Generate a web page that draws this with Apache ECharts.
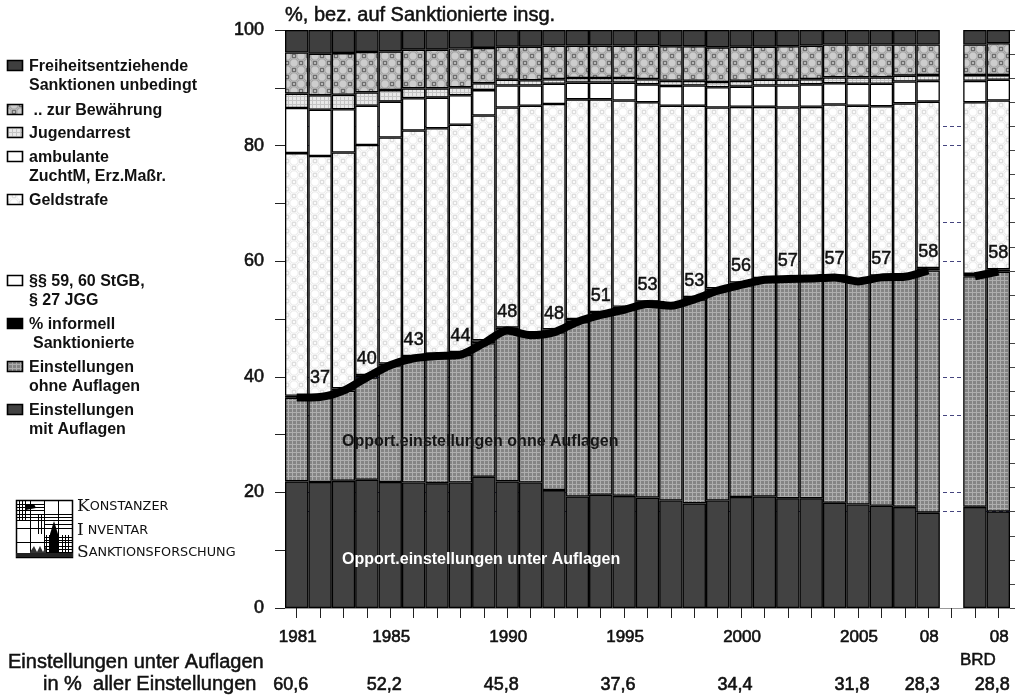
<!DOCTYPE html>
<html><head><meta charset="utf-8">
<style>html,body{margin:0;padding:0;background:#fff}#c{width:1024px;height:698px}</style>
<script src="https://cdn.jsdelivr.net/npm/echarts@6/dist/echarts.min.js"></script>
</head><body><div id="c"></div>
<script>
const categories = ['1981','1982','1983','1984','1985','1986','1987','1988','1989','1990','1991','1992','1993','1994','1995','1996','1997','1998','1999','2000','2001','2002','2003','2004','2005','2006','2007','2008','','BRD 2007','BRD 2008'];
const tickLabels = {'1981':'1981','1985':'1985','1990':'1990','1995':'1995','2000':'2000','2005':'2005','2008':'08','BRD 2008':'08'};
const shareOfDismissals = {'1981':'60,6','1985':'52,2','1990':'45,8','1995':'37,6','2000':'34,4','2005':'31,8','2008':'28,3','BRD 2008':'28,8'};
const labelledYears = ['1982','1984','1986','1988','1990','1992','1994','1996','1998','2000','2002','2004','2006','2008','BRD 2008'];

const mitAuflagen  = [21.9,21.8,22.0,22.2,21.8,21.7,21.6,21.7,22.7,21.9,21.7,20.4,19.3,19.6,19.4,19.1,18.6,18.1,18.6,19.2,19.3,19.0,19.0,18.2,17.9,17.7,17.5,16.5,null,17.5,16.7];
const ohneAuflagen = [14.5,14.7,15.6,17.7,20.2,21.5,22.0,22.1,23.1,26.1,25.5,27.3,30.2,31.1,32.2,33.5,33.7,35.3,36.3,36.7,37.5,37.9,38.0,39.0,38.6,39.5,39.8,41.9,null,39.9,41.5];
const stgb5960     = [0.3,0.3,0.4,0.4,0.3,0.4,0.4,0.5,0.5,0.5,0.5,0.5,0.5,0.5,0.5,0.4,0.4,0.4,0.4,0.4,0.3,0.3,0.3,0.3,0.3,0.3,0.3,0.4,null,0.4,0.4];
const geldstrafe   = [42.0,41.4,40.8,39.8,39.1,39.0,39.0,39.3,38.9,38.1,39.2,39.0,38.0,36.8,35.7,34.5,34.2,33.1,31.3,30.4,29.6,29.4,29.4,29.6,30.1,29.3,29.7,28.8,null,29.7,29.2];
const ambulante    = [7.8,8.0,7.5,6.8,6.2,5.6,5.3,5.1,4.4,3.8,3.5,3.5,2.9,2.9,3.1,3.1,3.4,3.5,3.5,3.5,3.7,3.8,3.9,3.7,3.8,3.9,3.8,3.6,null,3.7,3.6];
const jugendarrest = [2.5,2.5,2.5,2.3,2.0,1.7,1.6,1.4,1.2,1.0,0.9,0.8,0.8,0.8,0.8,0.9,0.9,0.8,0.9,1.0,1.0,1.0,0.9,1.0,1.1,1.1,1.0,1.0,null,1.0,0.8];
const bewaehrung   = [7.1,7.2,7.2,7.0,6.7,6.7,6.7,6.7,6.1,5.7,5.8,5.8,5.6,5.6,5.6,5.8,6.0,6.0,6.0,5.9,5.7,5.8,5.8,5.7,5.7,5.7,5.4,5.3,null,5.3,5.5];
const freiheit     = [3.9,4.1,4.0,3.8,3.7,3.4,3.4,3.2,3.1,2.9,2.9,2.7,2.7,2.7,2.7,2.7,2.8,2.8,3.0,2.9,2.9,2.8,2.7,2.5,2.5,2.5,2.5,2.5,null,2.5,2.3];
const informell    = [36.4,36.5,37.6,39.9,42.0,43.2,43.6,43.8,45.8,48.0,47.2,47.7,49.5,50.7,51.6,52.6,52.3,53.4,54.9,55.9,56.8,56.9,57.0,57.2,56.5,57.2,57.3,58.4,null,57.4,58.2];

const FONT = '"Liberation Sans", Arial, sans-serif';
const INK = '#111';

function tile(size, draw){
  const c = document.createElement('canvas'); c.width = c.height = size;
  draw(c.getContext('2d'), size);
  return {image:c, repeat:'repeat'};
}
function grid(bg, line, p){
  return tile(p, (g,s)=>{ g.fillStyle=bg; g.fillRect(0,0,s,s); g.fillStyle=line; g.fillRect(0,0,s,1); g.fillRect(0,0,1,s); });
}
function rings(bg, disc, ring, sq){
  return tile(14, (g,s)=>{
    g.fillStyle=bg; g.fillRect(0,0,s,s);
    [[7,0],[7,14],[0,7],[14,7]].forEach(([x,y])=>{
      g.beginPath(); g.arc(x,y,4.2,0,Math.PI*2); g.fillStyle=disc; g.fill(); g.strokeStyle=ring; g.lineWidth=1; g.stroke();
    });
    g.strokeStyle=sq; g.lineWidth=1;
    g.strokeRect(5.5,5.5,3,3);
    g.strokeRect(-1.5,-1.5,3,3); g.strokeRect(12.5,-1.5,3,3); g.strokeRect(-1.5,12.5,3,3); g.strokeRect(12.5,12.5,3,3);
  });
}
const P = {
  frei:'#3f3f3f',
  bew:rings('#b9b9b9','#cdcdcd','#9c9c9c','#6e6e6e'),
  jug:grid('#e8e8e8','#c4c4c4',4),
  amb:'#ffffff',
  geld:rings('#fbfbfb','#ffffff','#e8e8e8','#dedede'),
  st:'#ffffff',
  ohne:grid('#848484','#aeaeae',4),
  mit:'#424242'
};

function bar(name, data, color){
  return {name, type:'bar', stack:'s', data, barWidth:'100%', silent:true,
    itemStyle:{color, borderColor:'#000', borderWidth:1.3}};
}

const gfx = [];
function txt(x,y,text,o){
  gfx.push({type:'text', x, y, z:50, silent:true, style:Object.assign({text, fill:INK, font:'bold 16px '+FONT, textVerticalAlign:'middle'},o||{})});
}
const legendRows = [
  {y:66, fill:P.frei, lines:[['Freiheitsentziehende',29,67],['Sanktionen unbedingt',29,86]]},
  {y:110,fill:P.bew,  lines:[[' .. zur Bewährung',29,111]]},
  {y:133,fill:P.jug,  lines:[['Jugendarrest',29,134]]},
  {y:157,fill:P.amb,  lines:[['ambulante',29,158],['ZuchtM, Erz.Maßr.',29,177]]},
  {y:200,fill:P.geld, lines:[['Geldstrafe',29,201]]},
  {y:281,fill:P.st,   lines:[['§§ 59, 60 StGB,',29,282],['§ 27 JGG',29,301]]},
  {y:324,fill:'#000', lines:[['% informell',29,325],['Sanktionierte',33,344]]},
  {y:367,fill:P.ohne, lines:[['Einstellungen',29,368],['ohne Auflagen',29,387]]},
  {y:410,fill:P.mit,  lines:[['Einstellungen',29,411],['mit Auflagen',29,430]]}
];
legendRows.forEach(r=>{
  gfx.push({type:'rect', z:50, silent:true, shape:{x:7.5,y:r.y-5.5,width:15,height:10}, style:{fill:r.fill, stroke:'#000', lineWidth:1.6}});
  r.lines.forEach(l=>txt(l[1],l[2],l[0]));
});

txt(285,15,'%, bez. auf Sanktionierte insg.',{font:'20px '+FONT, stroke:INK, lineWidth:0.5});
txt(342,442,'Opport.einstellungen ohne Auflagen',{font:'bold 16px '+FONT, fill:'#161616'});
txt(342,560,'Opport.einstellungen unter Auflagen',{font:'bold 16px '+FONT, fill:'#fff'});
txt(8,662,'Einstellungen unter Auflagen',{font:'20px '+FONT, stroke:INK, lineWidth:0.5});
txt(43,684,'in %  aller Einstellungen',{font:'20px '+FONT, stroke:INK, lineWidth:0.5});
txt(960,660,'BRD',{font:'17px '+FONT, stroke:INK, lineWidth:0.5});

// Institute logo
function logoLine(x1,y1,x2,y2,w){ gfx.push({type:'line', z:50, silent:true, shape:{x1,y1,x2,y2}, style:{stroke:'#000', lineWidth:w||1}}); }
gfx.push({type:'rect', z:50, silent:true, shape:{x:16.5,y:500.5,width:56,height:57}, style:{fill:'#fff',stroke:'#000',lineWidth:1.5}});
[30,44,58].forEach(x=>logoLine(x+.5,500,x+.5,558));
[514,528,542].forEach(y=>logoLine(16,y+.5,73,y+.5));
[19,22,25].forEach(x=>logoLine(x+.5,500,x+.5,520));
[504,507,510,517,520].forEach(y=>logoLine(16,y+.5,44,y+.5));
[517,520,524].forEach(y=>logoLine(44,y+.5,72,y+.5));
[38,41].forEach(x=>logoLine(x+.5,514,x+.5,534));
[46,49,62,65,68].forEach(x=>logoLine(x+.5,535,x+.5,558));
[537,540,546,549,552,555].forEach(y=>logoLine(44,y+.5,72,y+.5));
gfx.push({type:'polygon', z:51, silent:true, shape:{points:[[50,534],[54,521],[58,534],[58,557],[50,557]]}, style:{fill:'#000'}});
gfx.push({type:'polygon', z:51, silent:true, shape:{points:[[25,504],[34,504],[36,508],[26,510]]}, style:{fill:'#000'}});
gfx.push({type:'polygon', z:51, silent:true, shape:{points:[[30,552],[34,546],[37,552],[40,546],[43,552],[46,546],[46,557],[30,557]]}, style:{fill:'#333'}});
gfx.push({type:'rect', z:51, silent:true, shape:{x:16,y:553,width:57,height:4}, style:{fill:'#222'}});

function logoText(y,initial,rest){
  gfx.push({type:'text', x:77, y, z:50, silent:true, style:{
    text:'{a|'+initial+'}{b|'+rest+'}', textVerticalAlign:'middle',
    rich:{a:{font:'17px "DejaVu Serif", serif', fill:'#111'}, b:{font:'12.8px "DejaVu Sans", sans-serif', fill:'#111'}}
  }});
}
logoText(507,'K','ONSTANZER');
logoText(531,'I',' NVENTAR');
logoText(553,'S','ANKTIONSFORSCHUNG');

const lineData = informell.map((v,i)=> labelledYears.includes(categories[i])
  ? {value:v, label:{show:true}} : v);

const option = {
  animation:false,
  backgroundColor:'#fff',
  grid:{left:285, right:14, top:30, height:578},
  xAxis:[{
    type:'category', data:categories, position:'bottom',
    axisLine:{show:true, lineStyle:{color:'#999', width:1}},
    axisTick:{show:true, alignWithLabel:true, interval:0, length:10, lineStyle:{color:'#222', width:1}},
    axisLabel:{interval:0, margin:21, color:INK, fontFamily:FONT, fontSize:17, textBorderColor:INK, textBorderWidth:0.6, padding:[0,0,0,2],
      formatter:(v)=>tickLabels[v]||''}
  },{
    type:'category', data:categories, position:'bottom', offset:68,
    axisLine:{show:false}, axisTick:{show:false},
    axisLabel:{interval:0, margin:0, color:INK, fontFamily:FONT, fontSize:18, textBorderColor:INK, textBorderWidth:0.6, padding:[0,12,0,0],
      formatter:(v)=>shareOfDismissals[v]||''}
  }],
  yAxis:[{
    type:'value', min:0, max:100, interval:20, position:'left',
    axisLine:{show:false},
    axisTick:{show:true, length:10, lineStyle:{color:'#222', width:1}},
    minorTick:{show:true, splitNumber:2, length:10, lineStyle:{color:'#222', width:1}},
    axisLabel:{margin:21, color:INK, fontFamily:FONT, fontSize:18, textBorderColor:INK, textBorderWidth:0.6},
    splitLine:{show:true, showMinLine:false, showMaxLine:false, lineStyle:{color:'#45457f', type:[4,3], width:1}}
  },{
    type:'value', min:0, max:120, interval:20, position:'right',
    axisLine:{show:false},
    axisTick:{show:true, length:5, lineStyle:{color:'#444', width:1}},
    minorTick:{show:true, splitNumber:4, length:5, lineStyle:{color:'#444', width:1}},
    axisLabel:{show:false},
    splitLine:{show:true, showMinLine:false, showMaxLine:false, lineStyle:{color:'#45457f', type:[4,3], width:1}}
  }],
  series:[
    bar('Einstellungen mit Auflagen', mitAuflagen, P.mit),
    bar('Einstellungen ohne Auflagen', ohneAuflagen, P.ohne),
    bar('§§ 59, 60 StGB, § 27 JGG', stgb5960, P.st),
    bar('Geldstrafe', geldstrafe, P.geld),
    bar('ambulante ZuchtM, Erz.Maßr.', ambulante, P.amb),
    bar('Jugendarrest', jugendarrest, P.jug),
    bar('.. zur Bewährung', bewaehrung, P.bew),
    bar('Freiheitsentziehende Sanktionen unbedingt', freiheit, P.frei),
    {name:'% informell Sanktionierte', type:'line', data:lineData, z:10, silent:true,
     smooth:0.25, connectNulls:false, showSymbol:true, showAllSymbol:true, symbol:'circle', symbolSize:1,
     itemStyle:{color:'#000'},
     lineStyle:{color:'#000', width:8, cap:'butt', join:'round'},
     label:{show:false, position:'top', distance:9, color:INK, fontFamily:FONT, fontSize:18, textBorderColor:INK, textBorderWidth:0.5,
       formatter:(p)=>String(Math.round(p.value))}}
  ],
  graphic:gfx
};
const chart = echarts.init(document.getElementById('c'), null, {renderer:'canvas'});
chart.setOption(option);
</script></body></html>
